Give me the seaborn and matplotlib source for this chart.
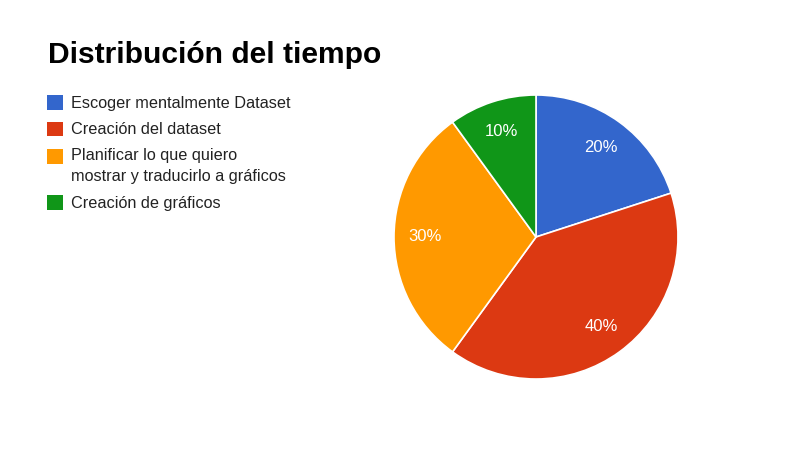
import matplotlib
matplotlib.use("Agg")
import matplotlib.pyplot as plt
from matplotlib.patches import Patch, Rectangle
from matplotlib.legend_handler import HandlerBase
import seaborn as sns

# Data
categories = [
    "Escoger mentalmente Dataset",
    "Creación del dataset",
    "Planificar lo que quiero\nmostrar y traducirlo a gráficos",
    "Creación de gráficos",
]
shares = [20, 40, 30, 10]
colors = ["#3366cc", "#dc3912", "#ff9900", "#109618"]

sns.set_style("white")
plt.rcParams["font.family"] = ["Liberation Sans", "DejaVu Sans"]

W, H = 807, 465
fig = plt.figure(figsize=(W / 100, H / 100), dpi=100)

# Pie: center (536, 237), radius 142 px
cx, cy, r = 536, 237, 142
ax = fig.add_axes([(cx - r) / W, 1 - (cy + r) / H, 2 * r / W, 2 * r / H])
wedges, texts, autotexts = ax.pie(
    shares,
    colors=colors,
    startangle=90,
    counterclock=False,
    autopct="%1.0f%%",
    pctdistance=0.78,
    wedgeprops=dict(edgecolor="white", linewidth=1.2),
    textprops=dict(color="white", fontsize=12),
)
ax.set_xlim(-1, 1)
ax.set_ylim(-1, 1)
ax.set_aspect("equal")

# Title
fig.text(48 / W, 1 - 63 / H, "Distribución del tiempo", fontsize=21.6,
         fontweight="bold", color="black", va="baseline", ha="left")


# square swatch that sits next to the first line of a wrapped label
class SquareHandler(HandlerBase):
    def __init__(self, lift=0.0):
        super().__init__()
        self.lift = lift

    def create_artists(self, legend, orig_handle, xdescent, ydescent,
                       width, height, fontsize, trans):
        p = Rectangle((-xdescent, -ydescent + self.lift), width, height,
                      facecolor=orig_handle.get_facecolor(),
                      edgecolor="none", transform=trans)
        return [p]


# Legend
handles = [Patch(facecolor=c, edgecolor="none") for c in colors]
hmap = {h: SquareHandler(7.2 * lab.count("\n")) for h, lab in zip(handles, categories)}
leg = fig.legend(handles, categories, loc="upper left",
                 bbox_to_anchor=(47 / W, 1 - 95 / H), frameon=False,
                 fontsize=11.7, handlelength=1.0, handleheight=1.0,
                 handletextpad=0.45, labelspacing=0.66, borderpad=0,
                 borderaxespad=0, labelcolor="#222222", handler_map=hmap)
for t in leg.get_texts():
    t.set_linespacing(1.53)

fig.savefig("out.png", dpi=100, facecolor="white")
